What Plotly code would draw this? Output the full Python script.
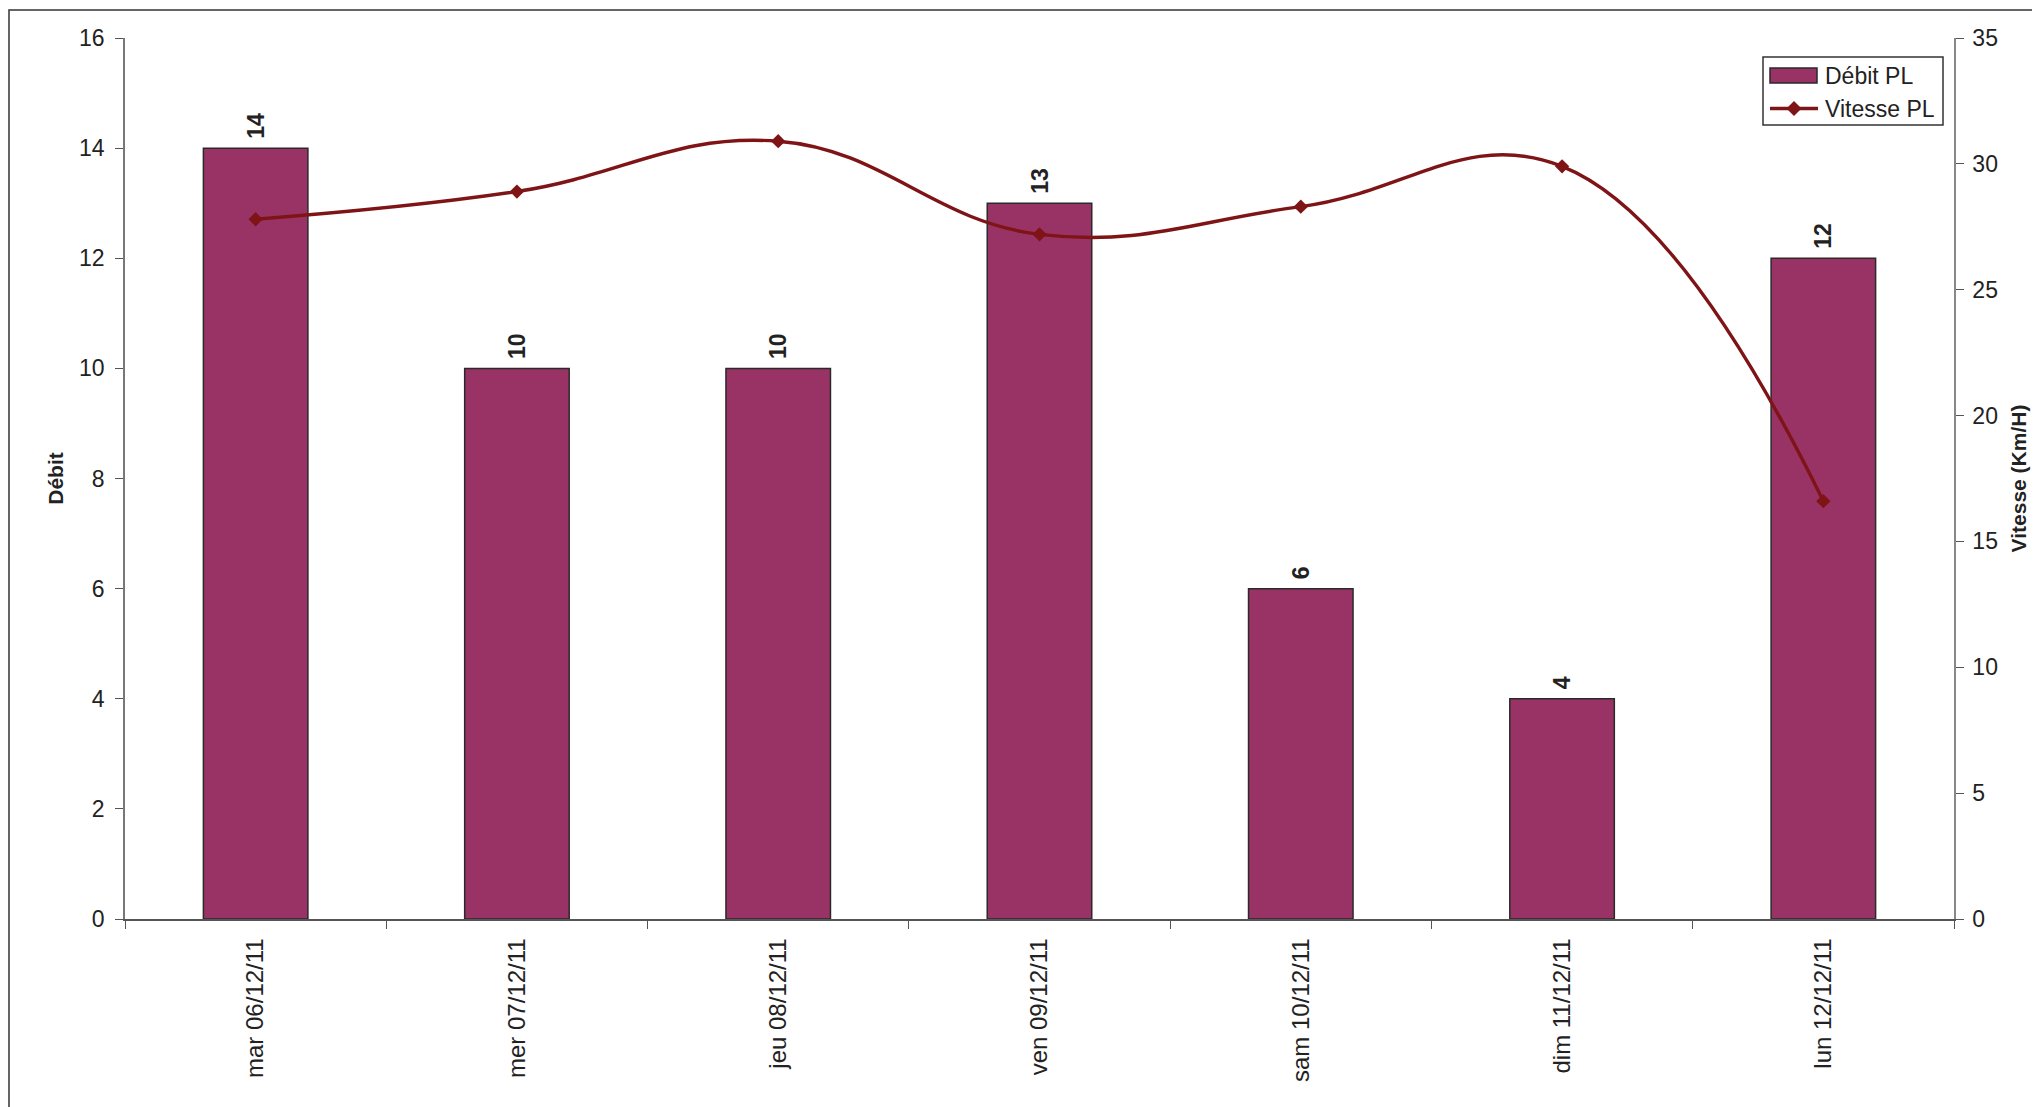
import plotly.graph_objects as go

categories = ["mar 06/12/11", "mer 07/12/11", "jeu 08/12/11", "ven 09/12/11",
              "sam 10/12/11", "dim 11/12/11", "lun 12/12/11"]
debit_pl = [14, 10, 10, 13, 6, 4, 12]
vitesse_pl = [27.8, 28.9, 30.9, 27.2, 28.3, 29.9, 16.6]
series_names = ["Débit PL", "Vitesse PL"]

OFF = 8  # page body margin
W, H = 2040 - OFF, 1107 - OFF
L, R, T, B = 125 - OFF, 86, 38 - OFF, 188
pw, ph = W - L - R, H - T - B

FONT = "Liberation Sans, Arial, sans-serif"
BAR_COLOR = "#993366"
LINE_COLOR = "#7f1417"
TXT = "#222"


def px(x):
    return (x - OFF - L) / pw


def py(y):
    return (H - B - (y - OFF)) / ph


fig = go.Figure()
fig.add_trace(go.Bar(
    x=categories, y=debit_pl, name=series_names[0],
    marker=dict(color=BAR_COLOR, line=dict(color="#2a2a2a", width=1.5)),
    text=["<b>\u00a0" + str(v) + "</b>" for v in debit_pl],
    textposition="outside", textangle=-90, constraintext="none",
    textfont=dict(family=FONT, size=23, color=TXT),
    cliponaxis=False, showlegend=False,
))
fig.add_trace(go.Scatter(
    x=categories, y=vitesse_pl, name=series_names[1], yaxis="y2",
    mode="lines+markers",
    line=dict(color=LINE_COLOR, width=3.4, shape="spline", smoothing=1.2),
    marker=dict(symbol="diamond", size=11, color=LINE_COLOR),
    showlegend=False,
))

shapes = []
# outer frame
shapes.append(dict(type="rect", xref="paper", yref="paper",
                   x0=px(9), x1=px(2060), y0=py(1130), y1=py(10),
                   line=dict(color="#333", width=1.5), layer="below"))
# custom legend box
shapes.append(dict(type="rect", xref="paper", yref="paper",
                   x0=px(1763), x1=px(1943), y0=py(125), y1=py(57),
                   line=dict(color="#333", width=1.5), fillcolor="white"))
# bar swatch
shapes.append(dict(type="rect", xref="paper", yref="paper",
                   x0=px(1770), x1=px(1817), y0=py(83), y1=py(68),
                   line=dict(color="#2a2a2a", width=1.5), fillcolor=BAR_COLOR))
# line swatch
shapes.append(dict(type="line", xref="paper", yref="paper",
                   x0=px(1770), x1=px(1818), y0=py(108.5), y1=py(108.5),
                   line=dict(color=LINE_COLOR, width=3.4)))
dx, dy = 7.5, 7.5
cx, cy = 1794, 108.5
shapes.append(dict(type="path", xref="paper", yref="paper",
                   path=f"M {px(cx - dx)} {py(cy)} L {px(cx)} {py(cy - dy)} "
                        f"L {px(cx + dx)} {py(cy)} L {px(cx)} {py(cy + dy)} Z",
                   line=dict(color=LINE_COLOR, width=0), fillcolor=LINE_COLOR))

annotations = [
    dict(text=series_names[0], xref="paper", yref="paper", x=px(1823), y=py(76),
         xanchor="left", yanchor="middle", showarrow=False,
         font=dict(family=FONT, size=23, color=TXT)),
    dict(text=series_names[1], xref="paper", yref="paper", x=px(1823), y=py(109),
         xanchor="left", yanchor="middle", showarrow=False,
         font=dict(family=FONT, size=23, color=TXT)),
]

fig.update_layout(
    width=W, height=H,
    margin=dict(l=L, r=R, t=T, b=B, autoexpand=False),
    paper_bgcolor="white", plot_bgcolor="white",
    font=dict(family=FONT, size=23, color=TXT),
    bargap=0.6,
    showlegend=False,
    shapes=shapes,
    annotations=annotations,
    xaxis=dict(type="category", tickson="boundaries", ticks="outside", ticklen=8,
               tickcolor="#555", showline=True, linecolor="#555", linewidth=1.5,
               tickangle=-90, showgrid=False, ticklabelstandoff=8,
               tickfont=dict(family=FONT, size=24, color=TXT)),
    yaxis=dict(range=[0, 16], dtick=2, ticks="outside", ticklen=8, tickcolor="#555",
               showline=True, linecolor="#777", linewidth=1.5, showgrid=False,
               zeroline=False, ticklabelstandoff=6,
               title=dict(text="<b>Débit</b>", font=dict(family=FONT, size=21, color=TXT),
                          standoff=10),
               tickfont=dict(family=FONT, size=23, color=TXT)),
    yaxis2=dict(range=[0, 35], dtick=5, overlaying="y", side="right", ticks="outside",
                ticklen=8, tickcolor="#555", showline=True, linecolor="#888",
                linewidth=1.5, showgrid=False, zeroline=False, ticklabelstandoff=4,
                title=dict(text="<b>Vitesse (Km/H)</b>",
                           font=dict(family=FONT, size=21, color=TXT), standoff=14),
                tickfont=dict(family=FONT, size=23, color=TXT)),
)

fig.write_html("out.html")
